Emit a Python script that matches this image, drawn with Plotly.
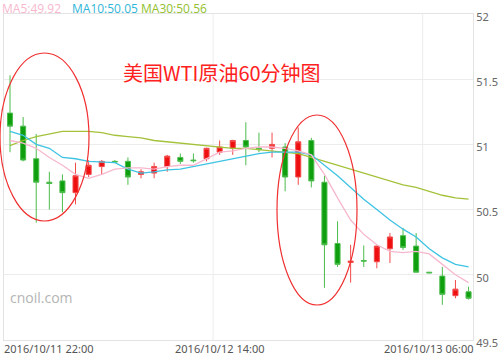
import plotly.graph_objects as go

# ---------------- data ----------------
idx = list(range(36))
open_ = [51.24, 51.14, 50.89, 50.71, 50.72, 50.63, 50.77, 50.83, 50.87, 50.87, 50.77, 50.78,
         50.83, 50.90, 50.88, 50.89, 50.94, 50.97, 51.03, 50.97, 50.97, 50.98, 50.75, 51.03,
         50.71, 50.24, 50.095, 50.11, 50.10, 50.20, 50.30, 50.22, 50.02, 49.99, 49.84, 49.87]
close = [51.14, 50.88, 50.71, 50.70, 50.63, 50.76, 50.84, 50.87, 50.865, 50.75, 50.79, 50.83,
         50.91, 50.87, 50.875, 50.97, 50.98, 51.03, 50.98, 50.96, 51.00, 50.75, 51.02, 50.72,
         50.23, 50.08, 50.105, 50.105, 50.22, 50.29, 50.21, 50.02, 50.015, 49.85, 49.89, 49.82]
high = [51.53, 51.21, 51.08, 50.79, 50.77, 50.86, 50.88, 50.88, 50.88, 50.90, 50.81, 50.86,
        50.92, 50.93, 50.93, 50.975, 51.03, 51.035, 51.17, 51.09, 51.09, 51.01, 51.13, 51.05,
        50.76, 50.41, 50.23, 50.225, 50.225, 50.32, 50.36, 50.32, 50.02, 50.06, 49.96, 49.91]
low = [50.94, 50.87, 50.40, 50.50, 50.48, 50.54, 50.75, 50.77, 50.86, 50.69, 50.74, 50.74,
       50.79, 50.85, 50.86, 50.87, 50.92, 50.92, 50.84, 50.94, 50.90, 50.64, 50.69, 50.67,
       49.90, 50.06, 49.94, 50.06, 50.05, 50.09, 50.19, 50.02, 50.015, 49.77, 49.82, 49.81]

ma5 = [51.03, 51.01, 50.97, 50.90, 50.84, 50.77, 50.74, 50.77, 50.81, 50.82, 50.82, 50.81,
       50.83, 50.84, 50.84, 50.89, 50.94, 50.95, 50.97, 50.98, 50.98, 50.97, 50.95, 50.92,
       50.77, 50.59, 50.42, 50.31, 50.23, 50.18, 50.17, 50.18, 50.16, 50.08, 50.00, 49.94]
ma10 = [51.10, 51.07, 51.00, 50.97, 50.90, 50.89, 50.87, 50.866, 50.86, 50.81, 50.78, 50.79,
        50.805, 50.81, 50.83, 50.85, 50.87, 50.89, 50.91, 50.93, 50.94, 50.94, 50.94, 50.92,
        50.84, 50.76, 50.67, 50.58, 50.50, 50.42, 50.35, 50.29, 50.20, 50.13, 50.08, 50.06]
ma30 = [50.99, 51.03, 51.06, 51.08, 51.10, 51.10, 51.10, 51.09, 51.07, 51.06, 51.05, 51.03,
        51.02, 51.01, 51.00, 50.99, 50.98, 50.97, 50.97, 50.96, 50.95, 50.94, 50.93, 50.90,
        50.87, 50.84, 50.81, 50.78, 50.75, 50.72, 50.69, 50.67, 50.64, 50.61, 50.59, 50.58]

x_tick_pos = [0, 16, 32]
x_tick_text = ["2016/10/11 22:00", "2016/10/12 14:00", "2016/10/13 06:00"]
legend_text = ["MA5:49.92", "MA10:50.05", "MA30:50.56"]
title_text = "美国WTI原油60分钟图"
watermark = "cnoil.com"

# ---------------- geometry helpers ----------------
W, H = 500, 359
PL, PR, PT, PB = 4, 473, 14, 340


def px(xp):
    return (xp - PL) / (PR - PL)


def py(yp):
    return (PB - yp) / (PB - PT)


C_MA5 = "#f7b8cf"
C_MA10 = "#3ec3e3"
C_MA30 = "#a3c23a"

fig = go.Figure()
fig.add_trace(go.Candlestick(
    x=idx, open=open_, high=high, low=low, close=close,
    increasing=dict(line=dict(color="#f24a4a", width=1), fillcolor="#ee1010"),
    decreasing=dict(line=dict(color="#4cbd4c", width=1), fillcolor="#0e9e0e"),
    whiskerwidth=0, showlegend=False, hoverinfo="skip"))
fig.add_trace(go.Scatter(x=idx, y=ma30, mode="lines", line=dict(color=C_MA30, width=1.3),
                         showlegend=False, hoverinfo="skip"))
fig.add_trace(go.Scatter(x=idx, y=ma10, mode="lines", line=dict(color=C_MA10, width=1.3),
                         showlegend=False, hoverinfo="skip"))
fig.add_trace(go.Scatter(x=idx, y=ma5, mode="lines", line=dict(color=C_MA5, width=1.3),
                         showlegend=False, hoverinfo="skip"))

shapes = []
for g in [15.5, 31.5]:
    shapes.append(dict(type="line", xref="x", yref="paper", x0=g, x1=g, y0=0, y1=1,
                       line=dict(color="#ececec", width=1), layer="below"))
shapes.append(dict(type="circle", xref="paper", yref="paper",
                   x0=px(0), x1=px(89), y0=py(221), y1=py(53),
                   line=dict(color="#f03030", width=1.2)))
shapes.append(dict(type="circle", xref="paper", yref="paper",
                   x0=px(277), x1=px(357), y0=py(305), y1=py(115),
                   line=dict(color="#f03030", width=1.2)))

ann = []
ann.append(dict(text=title_text, xref="paper", yref="paper", x=px(222), y=py(73),
                xanchor="center", yanchor="middle", showarrow=False,
                font=dict(family="Noto Sans CJK SC", size=20, color="#ff2020")))
ann.append(dict(text=watermark, xref="paper", yref="paper", x=px(8), y=py(297),
                xanchor="left", yanchor="middle", showarrow=False,
                font=dict(family="Open Sans", size=14, color="#b4b4b4")))
for t, xp, c in zip(legend_text, [0, 70, 139], [C_MA5, "#2fb6d8", "#92bf2e"]):
    ann.append(dict(text=t, xref="paper", yref="paper", x=px(xp), y=py(8),
                    xanchor="left", yanchor="middle", showarrow=False,
                    font=dict(family="Open Sans", size=12, color=c)))
for i, (pos, t) in enumerate(zip(x_tick_pos, x_tick_text)):
    if i == 0:
        ann.append(dict(text=t, xref="paper", yref="paper", x=px(2), y=py(348),
                        xanchor="left", yanchor="middle", showarrow=False,
                        font=dict(family="Noto Sans", size=11, color="#555")))
    else:
        ann.append(dict(text=t, xref="x", yref="paper", x=pos, y=py(348),
                        xanchor="center", yanchor="middle", showarrow=False,
                        font=dict(family="Noto Sans", size=11, color="#555")))

fig.update_layout(
    width=W, height=H,
    margin=dict(l=PL, r=W - PR, t=PT, b=H - PB, autoexpand=False),
    paper_bgcolor="white", plot_bgcolor="white",
    boxgap=0.45,
    shapes=shapes, annotations=ann,
    xaxis=dict(range=[-0.46, 35.34], showgrid=False, showticklabels=False, zeroline=False,
               showline=True, linecolor="#e3e3e3", linewidth=1, mirror=True, ticks="",
               rangeslider=dict(visible=False)),
    yaxis=dict(range=[49.5, 52], dtick=0.5, side="right", showgrid=True, gridcolor="#ececec",
               zeroline=False, showline=True, linecolor="#e3e3e3", linewidth=1, mirror=True,
               ticks="", ticklabelshift=3,
               tickfont=dict(family="Noto Sans", size=11, color="#666")),
)

fig.write_html("out.html", config={"displayModeBar": False},
               post_script="document.body.style.margin='0px';")
